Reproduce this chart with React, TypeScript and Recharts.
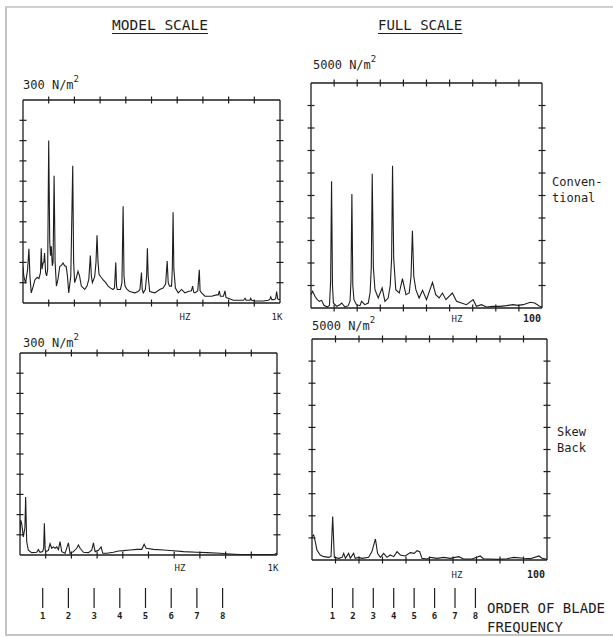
import React from 'react';
import { LineChart, Line, XAxis, YAxis } from 'recharts';

const INK = '#1e1e1e';
const FONT = '"DejaVu Sans Mono", monospace';

// grid ticks (10 divisions on every side of a frame)
const modelHzTicks = [100, 200, 300, 400, 500, 600, 700, 800, 900];
const modelAmpTicks = [30, 60, 90, 120, 150, 180, 210, 240, 270];
const fullHzTicks = [10, 20, 30, 40, 50, 60, 70, 80, 90];
const fullAmpTicks = [500, 1000, 1500, 2000, 2500, 3000, 3500, 4000, 4500];
const bladeOrders = [1, 2, 3, 4, 5, 6, 7, 8];

// model scale, conventional propeller (Hz, N/m^2)
const convModelHz = [
  0, 3, 10, 18, 23, 27, 32, 40, 46, 55, 62, 68, 71, 74, 78, 81, 84, 88, 92, 96,
  100, 104, 107, 110, 114, 117, 121, 125, 130, 136, 143, 150, 156, 162, 168, 173, 178, 186, 193.5, 197,
  201, 208, 214, 220, 227, 240, 249, 256, 262, 266, 270, 279, 284, 288, 292, 296, 304, 312, 322, 331,
  341, 350, 356, 361, 364, 367, 379, 385, 389.6, 393, 397, 405, 415, 435, 448, 455, 461, 464, 468, 476,
  481, 484, 487, 493, 513, 532, 545, 555, 561, 565, 570, 578, 581, 584, 587, 593, 604, 617, 630, 643,
  655, 660, 664, 669, 680, 686, 689, 695, 708, 734, 753, 760, 764, 768, 773, 780, 786, 790, 799, 818,
  844, 858, 864, 868, 877, 883, 886, 890, 903, 935, 955, 961, 964, 968, 974, 983, 987, 991, 997, 1000,
];
const convModelAmp = [
  54, 40, 29, 50, 80, 40, 15, 25, 34, 38, 36, 45, 81, 50, 59, 60, 74, 45, 40, 50,
  240, 90, 70, 84, 55, 60, 188, 60, 25, 35, 54, 56, 59, 55, 54, 40, 15, 40, 203, 60,
  30, 38, 47, 40, 25, 20, 25, 35, 70, 40, 30, 39, 60, 100, 60, 42, 38, 34, 30, 25,
  22, 20, 22, 60, 25, 20, 20, 30, 143, 40, 25, 20, 17, 15, 17, 20, 45, 20, 15, 20,
  40, 81, 40, 17, 15, 20, 22, 28, 62, 30, 25, 25, 50, 134, 50, 22, 15, 20, 15, 17,
  18, 25, 16, 15, 18, 49, 18, 15, 10, 10, 12, 12, 18, 10, 10, 10, 18, 8, 7, 4,
  4, 4, 7, 4, 4, 4, 7, 4, 3, 3, 4, 6, 9, 5, 5, 6, 17, 6, 5, 5,
];

// full scale, conventional propeller
const convFullHz = [
  0, 0.7, 1.7, 2.7, 3.6, 4.6, 5.6, 7.1, 8.0, 8.5, 8.9, 9.3, 9.7, 11.1, 12.5, 13.3, 14.7, 16.1, 16.9, 17.3,
  17.7, 18.1, 18.6, 19.7, 21.2, 21.9, 23.3, 24.8, 25.6, 26.1, 26.5, 27.0, 27.7, 29.1, 30.8, 32, 33.4, 34.3, 34.9, 35.3,
  35.8, 36.7, 38.2, 39.6, 41.1, 42.5, 43.3, 43.9, 44.5, 45.4, 46.8, 48.3, 50, 52.6, 54, 55.5, 56.9, 58.4, 61.2, 63,
  65.1, 67.3, 70.2, 71.6, 73.8, 75.9, 78.8, 81.7, 84.6, 87.5, 89.6, 91.8, 95, 96.8, 99, 100,
];
const convFullAmp = [
  300, 370, 259, 185, 148, 170, 60, 22, 60, 600, 2815, 500, 111, 37, 74, 111, 22, 52, 150, 600,
  2533, 500, 185, 74, 52, 148, 74, 111, 350, 900, 2985, 900, 407, 222, 444, 148, 222, 500, 1100, 3163,
  1100, 407, 333, 652, 296, 333, 700, 1719, 700, 407, 222, 393, 185, 570, 296, 222, 333, 185, 333, 148,
  111, 74, 185, 37, 74, 22, 37, 37, 52, 74, 59, 74, 126, 111, 37, 22,
];

// model scale, skew back propeller
const skewModelHz = [
  0, 2.6, 6.5, 13, 19, 22, 26, 32.5, 45.5, 65, 71.4, 77.9, 88.3, 92, 94.8, 98, 100, 110.4, 116.9, 123.4,
  129.9, 136.4, 142.9, 149.4, 155.8, 162.3, 175.3, 188.3, 194.8, 207.8, 220.8, 227.3, 233.8, 246.8, 266.2, 279.2, 285.7, 292.2, 305.2, 315.6,
  322.1, 337.7, 363.6, 383.1, 402.6, 428.6, 454.5, 474, 483.1, 490.9, 519.5, 558.4, 597.4, 636.4, 688.3, 727.3, 779.2, 818.2, 857.1, 909.1,
  948.1, 990, 1000,
];
const skewModelAmp = [
  32, 52, 47, 27, 40, 86, 20, 7, 3.5, 4, 8, 4, 5, 10, 47, 8, 5, 7, 17, 10,
  12, 10, 12, 8, 20, 5, 2.5, 18, 2.5, 5, 10, 15, 10, 4, 3.5, 7, 18, 5, 7, 12,
  2.5, 2.5, 4, 6, 6.5, 7.5, 8.4, 8.4, 16, 10, 8.4, 7.4, 6.4, 5, 4, 3.5, 2.5, 1.5, 0.5, 0.5,
  0.5, 1, 2.5,
];

// full scale, skew back propeller
const skewFullHz = [
  0, 0.7, 1.4, 2.1, 3.5, 5, 7.1, 8.1, 8.8, 9.5, 11.3, 12.8, 13.5, 14.2, 15.6, 16.3, 17.7, 18.4, 19.9, 21.3,
  24.1, 25.5, 27, 27.9, 29.1, 30.5, 31.9, 33.3, 34.8, 36.2, 37.6, 39.7, 41.8, 43.5, 44.7, 45.8, 46.8, 48.9, 50.4, 53.2,
  56, 58.9, 62.4, 64.5, 68.1, 71.6, 73, 75.9, 78.7, 83, 85.8, 90.1, 92.9, 95.7, 96.5, 97.9, 100,
];
const skewFullAmp = [
  529, 566, 415, 227, 113, 76, 60, 80, 982, 60, 38, 60, 151, 38, 151, 38, 151, 38, 60, 38,
  60, 189, 476, 151, 60, 151, 60, 113, 76, 189, 113, 91, 166, 151, 211, 189, 38, 23, 60, 38,
  60, 38, 76, 23, 23, 91, 23, 23, 15, 30, 60, 38, 30, 76, 91, 38, 15,
];

const PAD = 8;
const frameLine = { stroke: INK, strokeWidth: 1.3 };

const crossTickX = (p: any) => (
  <line x1={p.x} x2={p.x} y1={p.y - 3.5} y2={p.y + 3.5} stroke={INK} strokeWidth={1.2} />
);
const crossTickY = (p: any) => (
  <line x1={p.x - 3.5} x2={p.x + 3.5} y1={p.y} y2={p.y} stroke={INK} strokeWidth={1.2} />
);

interface PanelProps {
  x: number;
  y: number;
  w: number;
  h: number;
  hz: number[];
  amp: number[];
  hzMax: number;
  ampMax: number;
  hzTicks: number[];
  ampTicks: number[];
}

// axes are 1px thick so recharts draws them; margin is reduced by that pixel
const SpectrumPanel: React.FC<PanelProps> = ({ x, y, w, h, hz, amp, hzMax, ampMax, hzTicks, ampTicks }) => {
  const data = hz.map((f, i) => ({ f, a: amp[i] }));
  const xProps = {
    dataKey: 'f',
    type: 'number' as const,
    domain: [0, hzMax],
    ticks: hzTicks,
    interval: 0 as const,
    height: 1,
    tickSize: 0,
    tickMargin: 0,
    axisLine: frameLine,
    tick: crossTickX,
    allowDataOverflow: true,
  };
  const yProps = {
    type: 'number' as const,
    domain: [0, ampMax],
    ticks: ampTicks,
    interval: 0 as const,
    width: 1,
    tickSize: 0,
    tickMargin: 0,
    axisLine: frameLine,
    tick: crossTickY,
    allowDataOverflow: true,
  };
  const m = PAD - 1;
  return (
    <div style={{ position: 'absolute', left: x - PAD, top: y - PAD }}>
      <LineChart width={w + PAD * 2} height={h + PAD * 2} data={data} margin={{ top: m, right: m, bottom: m, left: m }}>
        <XAxis xAxisId="bottom" orientation="bottom" {...xProps} />
        <XAxis xAxisId="top" orientation="top" {...xProps} />
        <YAxis yAxisId="left" orientation="left" {...yProps} />
        <YAxis yAxisId="right" orientation="right" {...yProps} />
        <Line
          xAxisId="bottom"
          yAxisId="left"
          dataKey="a"
          type="linear"
          stroke={INK}
          strokeWidth={1.1}
          dot={false}
          isAnimationActive={false}
        />
      </LineChart>
    </div>
  );
};

const bladeTick = (p: any) => (
  <g>
    <line x1={p.x} x2={p.x} y1={p.y} y2={p.y + 20} stroke={INK} strokeWidth={1.2} />
    <text x={p.x} y={p.y + 31} textAnchor="middle" fontSize={9} fontWeight="bold" fontFamily={FONT} fill={INK}>
      {p.payload.value}
    </text>
  </g>
);

const BladeScale: React.FC<{ x: number; w: number; top: number }> = ({ x, w, top }) => (
  <div style={{ position: 'absolute', left: x, top }}>
    <LineChart width={w} height={42} data={[{ n: 0, v: 0 }, { n: 10, v: 0 }]} margin={{ top: 0, right: 0, bottom: 0, left: 0 }}>
      <XAxis
        dataKey="n"
        type="number"
        orientation="top"
        domain={[0, 10]}
        ticks={bladeOrders}
        interval={0}
        height={1}
        tickSize={0}
        tickMargin={0}
        axisLine={false}
        tick={bladeTick}
      />
      <YAxis hide domain={[0, 1]} />
      <Line dataKey="v" stroke="none" dot={false} isAnimationActive={false} />
    </LineChart>
  </div>
);

const Txt: React.FC<{ x: number; cy: number; size: number; center?: boolean; style?: React.CSSProperties; children: React.ReactNode }> = ({
  x, cy, size, center, style, children,
}) => (
  <div
    style={{
      position: 'absolute',
      left: x,
      top: cy - size / 2,
      fontSize: size,
      lineHeight: `${size}px`,
      fontFamily: FONT,
      color: INK,
      whiteSpace: 'nowrap',
      transform: center ? 'translateX(-50%)' : undefined,
      ...style,
    }}
  >
    {children}
  </div>
);

const Unit: React.FC<{ x: number; cy: number; value: string }> = ({ x, cy, value }) => (
  <Txt x={x} cy={cy} size={12}>
    {value} N/m<span style={{ fontSize: 9, position: 'relative', top: -7 }}>2</span>
  </Txt>
);

export default function App() {
  return (
    <div style={{ position: 'absolute', left: 0, top: 0, width: 613, height: 637, background: '#fff', overflow: 'hidden' }}>
      <div
        style={{
          position: 'absolute',
          left: 5,
          top: 6,
          width: 620,
          height: 626,
          borderLeft: '2px solid #c4c4c4',
          borderTop: '2px solid #d0d0d0',
          borderBottom: '2px solid #c4c4c4',
        }}
      />

      <Txt x={112} cy={25} size={14.5} style={{ textDecoration: 'underline', textUnderlineOffset: 3 }}>MODEL SCALE</Txt>
      <Txt x={378} cy={25} size={14} style={{ textDecoration: 'underline', textUnderlineOffset: 3 }}>FULL SCALE</Txt>

      <Unit x={23} cy={85} value="300" />
      <Unit x={313} cy={65} value="5000" />
      <Unit x={23} cy={343} value="300" />
      <Unit x={312} cy={326} value="5000" />

      <SpectrumPanel x={23} y={100} w={257} h={203} hz={convModelHz} amp={convModelAmp} hzMax={1000} ampMax={300} hzTicks={modelHzTicks} ampTicks={modelAmpTicks} />
      <SpectrumPanel x={311} y={83} w={231} h={225} hz={convFullHz} amp={convFullAmp} hzMax={100} ampMax={5000} hzTicks={fullHzTicks} ampTicks={fullAmpTicks} />
      <SpectrumPanel x={20} y={353} w={257} h={202} hz={skewModelHz} amp={skewModelAmp} hzMax={1000} ampMax={300} hzTicks={modelHzTicks} ampTicks={modelAmpTicks} />
      <SpectrumPanel x={312} y={339} w={235} h={221} hz={skewFullHz} amp={skewFullAmp} hzMax={100} ampMax={5000} hzTicks={fullHzTicks} ampTicks={fullAmpTicks} />

      <Txt x={185} cy={317} size={9} center>HZ</Txt>
      <Txt x={277} cy={317} size={9} center>1K</Txt>
      <Txt x={457} cy={319} size={9} center>HZ</Txt>
      <Txt x={532} cy={319} size={10} center style={{ fontWeight: 'bold' }}>100</Txt>
      <Txt x={180} cy={568} size={9} center>HZ</Txt>
      <Txt x={273} cy={568} size={9} center>1K</Txt>
      <Txt x={457} cy={575} size={9} center>HZ</Txt>
      <Txt x={536} cy={575} size={10} center style={{ fontWeight: 'bold' }}>100</Txt>

      <Txt x={552} cy={182} size={12}>Conven-</Txt>
      <Txt x={552} cy={198} size={12}>tional</Txt>
      <Txt x={557} cy={432} size={12}>Skew</Txt>
      <Txt x={557} cy={448} size={12}>Back</Txt>

      <BladeScale x={17.3} w={257} top={587} />
      <BladeScale x={311.6} w={204.3} top={587} />

      <Txt x={487} cy={608} size={14}>ORDER OF BLADE</Txt>
      <Txt x={487} cy={627} size={14}>FREQUENCY</Txt>
    </div>
  );
}
